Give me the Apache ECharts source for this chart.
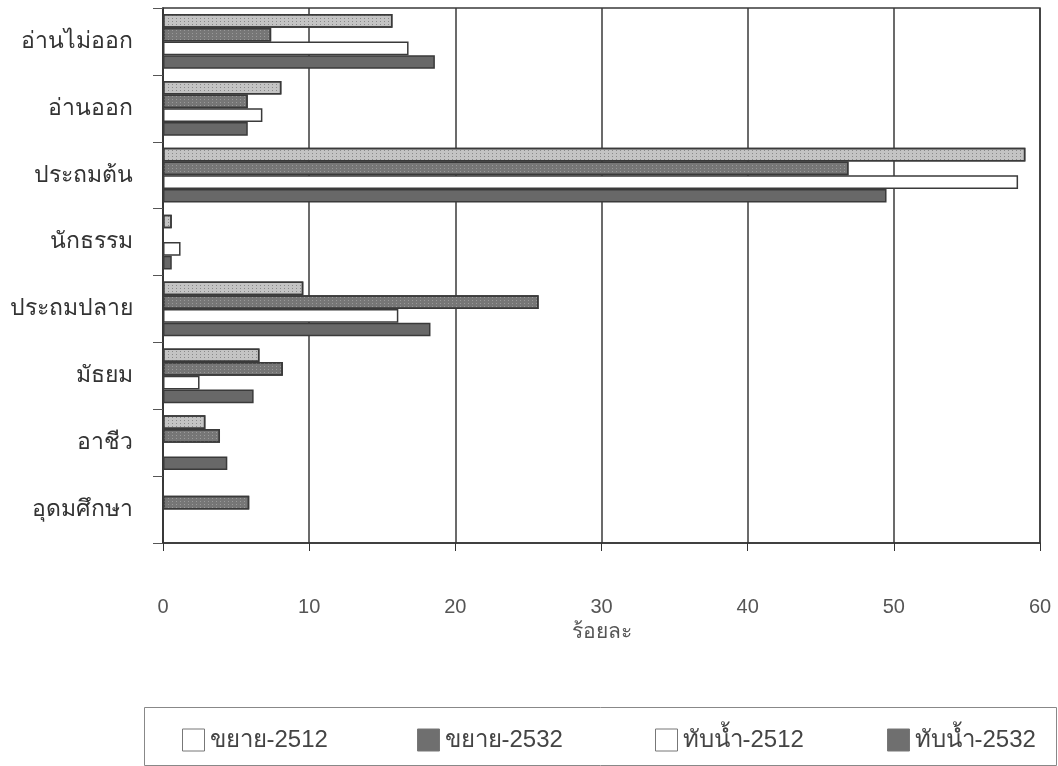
<!DOCTYPE html>
<html><head><meta charset="utf-8">
<script src="https://cdn.jsdelivr.net/npm/echarts@6/dist/echarts.min.js"></script>
<style>html,body{margin:0;padding:0;background:#fff}#c{width:1058px;height:766px}</style>
</head><body><div id="c"></div>
<script>
const categories = ['อ่านไม่ออก','อ่านออก','ประถมต้น','นักธรรม','ประถมปลาย','มัธยม','อาชีว','อุดมศึกษา'];
const seriesNames = ['ขยาย-2512','ขยาย-2532','ทับน้ำ-2512','ทับน้ำ-2532'];
const khayai2512 = [15.7, 8.1, 59.0, 0.6, 9.6, 6.6, 2.9, 0];
const khayai2532 = [7.4, 5.8, 46.9, 0, 25.7, 8.2, 3.9, 5.9];
const thapnam2512 = [16.8, 6.8, 58.5, 1.2, 16.1, 2.5, 0, 0];
const thapnam2532 = [18.6, 5.8, 49.5, 0.6, 18.3, 6.2, 4.4, 0];
const xTicks = [0, 10, 20, 30, 40, 50, 60];
const xName = 'ร้อยละ';

const fills = ['#c4c4c4', '#767676', '#ffffff', '#686868'];
const decals = [
  { symbol: 'rect', symbolSize: 1, dashArrayX: [1, 3], dashArrayY: [1, 2], color: 'rgba(90,90,90,0.55)', rotation: 0 },
  { symbol: 'rect', symbolSize: 1, dashArrayX: [1, 3], dashArrayY: [1, 2], color: 'rgba(200,200,200,0.45)', rotation: 0 },
  null, null
];
const legendFills = ['#ffffff', '#6f6f6f', '#ffffff', '#6f6f6f'];
const legendLeft = [177, 412, 650, 882];
const allData = [khayai2512, khayai2532, thapnam2512, thapnam2532];
const FONT = '"Liberation Sans", "Noto Sans", sans-serif';

const chart = echarts.init(document.getElementById('c'));
chart.setOption({
  backgroundColor: '#ffffff',
  animation: false,
  grid: { left: 163, right: 18, top: 8, bottom: 223, show: true, borderColor: '#3a3a3a', borderWidth: 1.5 },
  xAxis: {
    type: 'value', min: xTicks[0], max: xTicks[xTicks.length - 1], interval: 10,
    axisLine: { show: true, lineStyle: { color: '#333', width: 1.5 } },
    axisTick: { show: true, length: 8, lineStyle: { color: '#333' } },
    splitLine: { show: true, lineStyle: { color: '#3a3a3a', width: 1.5 } },
    axisLabel: { color: '#555', fontSize: 20, margin: 54, fontFamily: FONT },
    name: xName, nameLocation: 'middle', nameGap: 70,
    nameTextStyle: { color: '#555', fontSize: 21, fontFamily: FONT }
  },
  yAxis: {
    type: 'category', data: categories, inverse: true,
    axisLine: { show: true, lineStyle: { color: '#333', width: 1.5 } },
    axisTick: { show: true, length: 10, lineStyle: { color: '#555' } },
    axisLabel: { color: '#333', fontSize: 23, margin: 30, fontFamily: FONT }
  },
  legend: seriesNames.map((n, i) => ({
    data: [{ name: n, itemStyle: { color: legendFills[i], borderColor: '#777', borderWidth: 1, decal: 'none' } }],
    left: legendLeft[i], top: 723, itemWidth: 22, itemHeight: 22, itemGap: 10,
    icon: 'rect', selectedMode: false,
    textStyle: { color: '#444', fontSize: 24, fontFamily: FONT }
  })),
  graphic: [{
    type: 'rect', left: 142, top: 705,
    shape: { width: 912, height: 58 },
    style: { fill: 'none', stroke: '#888', lineWidth: 1 }
  }],
  series: seriesNames.map((n, i) => ({
    name: n, type: 'bar', data: allData[i],
    barGap: '0%', barCategoryGap: '18%',
    itemStyle: Object.assign({ color: fills[i], borderColor: '#3a3a3a', borderWidth: 1.5 }, decals[i] ? { decal: decals[i] } : {})
  }))
});
</script></body></html>
